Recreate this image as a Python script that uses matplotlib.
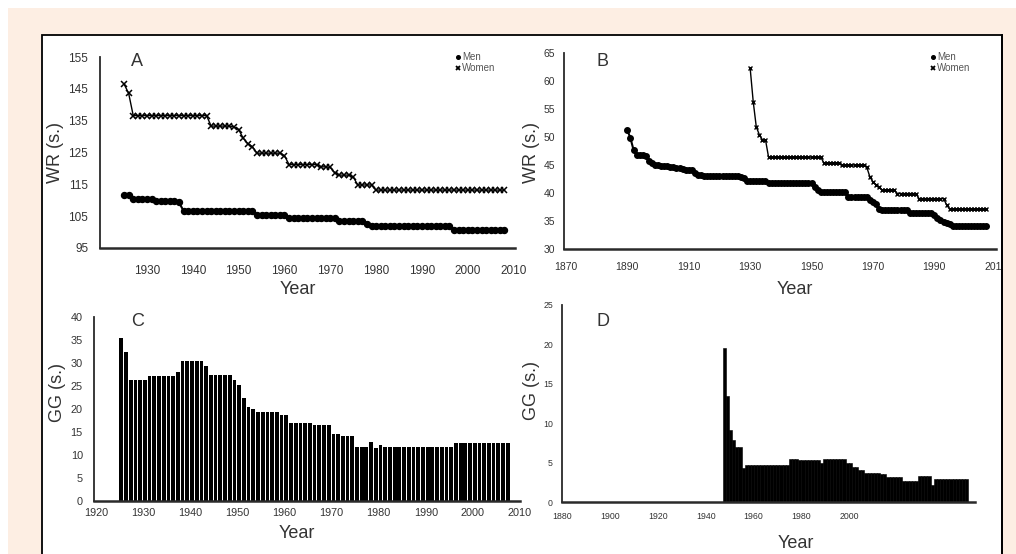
import matplotlib
matplotlib.use('Agg')
import matplotlib.pyplot as plt
from matplotlib.patches import Rectangle
from matplotlib.lines import Line2D
import numpy as np

plt.rcParams['font.family'] = ['Liberation Sans', 'DejaVu Sans']

# ---------------- data ----------------
years_a = list(range(1925, 2009))
women_a = [
    146.5, 143.6, 136.6, 136.6, 136.6, 136.6, 136.6, 136.6, 136.6, 136.6,   # 1925-1934
    136.6, 136.6, 136.6, 136.6, 136.6, 136.6, 136.6, 136.6, 136.6, 133.3,   # 1935-1944
    133.3, 133.3, 133.3, 133.3, 133.0, 132.2, 129.5, 127.8, 126.8, 124.8,   # 1945-1954
    124.8, 124.8, 124.8, 124.8, 124.8, 124.0, 121.2, 121.2, 121.2, 121.2,   # 1955-1964
    121.2, 121.2, 121.2, 120.5, 120.5, 120.3, 118.6, 117.9, 117.9, 117.9,   # 1965-1974
    117.3, 114.8, 114.8, 114.8, 114.8, 113.2, 113.2, 113.2, 113.2, 113.2,   # 1975-1984
    113.2, 113.2, 113.2, 113.2, 113.2, 113.2, 113.2, 113.2, 113.2, 113.2,   # 1985-1994
    113.2, 113.2, 113.2, 113.2, 113.2, 113.2, 113.2, 113.2, 113.2, 113.2,   # 1995-2004
    113.2, 113.2, 113.2, 113.2]                                             # 2005-2008
men_a = [
    111.7, 111.7, 110.5, 110.5, 110.5, 110.5, 110.5, 109.8, 109.8, 109.8,   # 1925-1934
    109.8, 109.8, 109.3, 106.6, 106.6, 106.6, 106.6, 106.6, 106.6, 106.6,   # 1935-1944
    106.6, 106.6, 106.6, 106.6, 106.6, 106.6, 106.6, 106.6, 106.6, 105.5,   # 1945-1954
    105.5, 105.5, 105.5, 105.5, 105.5, 105.5, 104.4, 104.4, 104.4, 104.4,   # 1955-1964
    104.4, 104.4, 104.4, 104.4, 104.4, 104.4, 104.4, 103.4, 103.4, 103.4,   # 1965-1974
    103.4, 103.4, 103.4, 102.6, 101.9, 101.9, 101.9, 101.9, 101.9, 101.9,   # 1975-1984
    101.9, 101.9, 101.9, 101.9, 101.9, 101.9, 101.9, 101.9, 101.9, 101.9,   # 1985-1994
    101.9, 101.9, 100.8, 100.8, 100.8, 100.8, 100.8, 100.8, 100.8, 100.8,   # 1995-2004
    100.8, 100.8, 100.8, 100.8]                                             # 2005-2008

years_men_b = list(range(1890, 2008))
men_b = [
    51.2, 49.8, 47.7, 46.8, 46.8, 46.7, 46.6, 45.8, 45.3, 45.0,   # 1890-1899
    45.0, 44.9, 44.9, 44.8, 44.7, 44.6, 44.5, 44.4, 44.2, 44.1,   # 1900-1909
    44.1, 44.1, 43.6, 43.3, 43.2, 43.1, 43.1, 43.1, 43.1, 43.1,   # 1910-1919
    43.1, 43.1, 43.1, 43.1, 43.1, 43.1, 43.1, 42.9, 42.6, 42.2,   # 1920-1929
    42.2, 42.2, 42.2, 42.2, 42.2, 42.2, 41.8, 41.8, 41.8, 41.8,   # 1930-1939
    41.8, 41.8, 41.8, 41.8, 41.8, 41.8, 41.8, 41.8, 41.8, 41.8,   # 1940-1949
    41.8, 41.1, 40.6, 40.2, 40.2, 40.2, 40.2, 40.2, 40.2, 40.2,   # 1950-1959
    40.2, 40.2, 39.3, 39.3, 39.3, 39.3, 39.3, 39.3, 39.3, 38.8,   # 1960-1969
    38.4, 38.0, 37.2, 37.0, 37.0, 37.0, 37.0, 37.0, 37.0, 37.0,   # 1970-1979
    37.0, 37.0, 36.4, 36.4, 36.4, 36.4, 36.4, 36.4, 36.4, 36.4,   # 1980-1989
    36.0, 35.5, 35.2, 34.9, 34.6, 34.4, 34.1, 34.1, 34.1, 34.1,   # 1990-1999
    34.1, 34.1, 34.1, 34.1, 34.1, 34.1, 34.1, 34.1]               # 2000-2007
years_women_b = list(range(1930, 2008))
women_b = [
    62.3, 56.3, 51.8, 50.4, 49.5, 49.5, 46.4, 46.4, 46.4, 46.4,   # 1930-1939
    46.4, 46.4, 46.4, 46.4, 46.4, 46.4, 46.4, 46.4, 46.4, 46.4,   # 1940-1949
    46.4, 46.4, 46.4, 46.4, 45.4, 45.4, 45.4, 45.4, 45.4, 45.4,   # 1950-1959
    45.0, 45.0, 45.0, 45.0, 45.0, 45.0, 45.0, 45.0, 44.6, 42.9,   # 1960-1969
    42.0, 41.5, 41.1, 40.5, 40.5, 40.5, 40.5, 40.5, 39.9, 39.9,   # 1970-1979
    39.9, 39.9, 39.9, 39.9, 39.9, 39.0, 39.0, 39.0, 39.0, 39.0,   # 1980-1989
    39.0, 39.0, 39.0, 39.0, 37.9, 37.1, 37.1, 37.1, 37.1, 37.1,   # 1990-1999
    37.1, 37.1, 37.1, 37.1, 37.1, 37.1, 37.1, 37.1]               # 2000-2007

years_c = list(range(1925, 2008))
gg_c = [
    35.4, 32.5, 26.3, 26.3, 26.3, 26.3, 27.2, 27.2, 27.2, 27.2,   # 1925-1934
    27.2, 27.2, 28.1, 30.4, 30.4, 30.4, 30.4, 30.4, 29.3, 27.4,   # 1935-1944
    27.4, 27.4, 27.4, 27.4, 26.3, 25.2, 22.3, 20.5, 19.9, 19.4,   # 1945-1954
    19.4, 19.4, 19.4, 19.4, 18.7, 18.7, 16.9, 16.9, 16.9, 16.9,   # 1955-1964
    16.9, 16.5, 16.5, 16.5, 16.5, 14.6, 14.6, 14.1, 14.1, 14.1,   # 1965-1974
    11.7, 11.7, 11.7, 12.9, 11.5, 12.2, 11.8, 11.8, 11.8, 11.8,   # 1975-1984
    11.8, 11.8, 11.8, 11.8, 11.8, 11.8, 11.8, 11.8, 11.8, 11.8,   # 1985-1994
    11.8, 12.7, 12.7, 12.7, 12.7, 12.7, 12.7, 12.7, 12.7, 12.7,   # 1995-2004
    12.7, 12.7, 12.7]                                             # 2005-2007

years_d = list(range(1930, 2008))
gg_d = [
    19.5, 13.5, 9.1, 7.9, 7.0, 7.0, 4.3, 4.7, 4.7, 4.7,   # 1930-1939
    4.7, 4.7, 4.7, 4.7, 4.7, 4.7, 4.7, 4.7, 4.7, 4.7,     # 1940-1949
    4.7, 5.5, 5.5, 5.5, 5.3, 5.3, 5.3, 5.3, 5.3, 5.3,     # 1950-1959
    5.3, 5.0, 5.5, 5.5, 5.5, 5.5, 5.5, 5.5, 5.5, 4.9,     # 1960-1969
    4.9, 4.5, 4.5, 4.1, 4.1, 3.7, 3.7, 3.7, 3.7, 3.7,     # 1970-1979
    3.5, 3.5, 3.2, 3.2, 3.2, 3.2, 3.2, 2.7, 2.7, 2.7,     # 1980-1989
    2.7, 2.7, 3.3, 3.3, 3.3, 3.3, 2.2, 2.9, 2.9, 2.9,     # 1990-1999
    2.9, 2.9, 2.9, 2.9, 2.9, 2.9, 2.9, 2.9]               # 2000-2007

ticks_a_x = [1930, 1940, 1950, 1960, 1970, 1980, 1990, 2000, 2010]
ticks_a_y = [95, 105, 115, 125, 135, 145, 155]
ticks_b_x = [1870, 1890, 1910, 1930, 1950, 1970, 1990, 2010]
ticks_b_y = [30, 35, 40, 45, 50, 55, 60, 65]
ticks_c_x = [1920, 1930, 1940, 1950, 1960, 1970, 1980, 1990, 2000, 2010]
ticks_c_y = [0, 5, 10, 15, 20, 25, 30, 35, 40]
labels_d_x = ['1880', '1900', '1920', '1940', '1960', '1980', '2000']
ticks_d_y = [0, 5, 10, 15, 20, 25]

# ---------------- layout ----------------
W, H = 1016, 554
PEACH = '#fdeee3'
DARK = '#2a2a2a'
fig = plt.figure(figsize=(W / 100, H / 100), dpi=100)
fig.patch.set_facecolor('white')

def fx(x):
    return x / W

def fy(y):
    return 1 - y / H

fig.add_artist(Rectangle((fx(8), 0), 1 - fx(8), fy(8), transform=fig.transFigure,
                         facecolor=PEACH, edgecolor='none', zorder=-10))
fig.add_artist(Rectangle((fx(42), fy(565)), fx(1002) - fx(42), fy(35) - fy(565),
                         transform=fig.transFigure, facecolor='white',
                         edgecolor='black', lw=1.3, zorder=-9))

def px_axes(l, t, r, b):
    ax = fig.add_axes([fx(l), fy(b), fx(r) - fx(l), fy(t) - fy(b)])
    ax.patch.set_alpha(0)
    for s in ['top', 'right']:
        ax.spines[s].set_visible(False)
    ax.spines['left'].set_color(DARK)
    ax.spines['left'].set_linewidth(1.3)
    ax.spines['bottom'].set_color(DARK)
    ax.spines['bottom'].set_linewidth(1.8)
    return ax

def style(ax, fsx, fsy, padx, pady):
    ax.tick_params(length=0, labelcolor='#333333')
    ax.tick_params(axis='x', pad=padx, labelsize=fsx)
    ax.tick_params(axis='y', pad=pady, labelsize=fsy)

# Panel A
axA = px_axes(100, 57, 515, 248)
axA.plot(years_a, men_a, color='black', lw=1.5, marker='o', ms=4.3, label='Men')
axA.plot(years_a, women_a, color='black', lw=1.0, marker='x', ms=4.0, mew=1.1, label='Women')
axA.set_xlim(1919.75, 2010.3)
axA.set_ylim(95, 155)
axA.set_xticks(ticks_a_x)
axA.set_yticks(ticks_a_y)
style(axA, 8.5, 8.5, 12, 8.5)

# Panel B
axB = px_axes(564, 53, 996, 249)
axB.plot(years_men_b, men_b, color='black', lw=1.5, marker='o', ms=4.0, label='Men')
axB.plot(years_women_b, women_b, color='black', lw=1.0, marker='x', ms=3.5, mew=1.0, label='Women')
axB.set_xlim(1869.35, 2010.1)
axB.set_ylim(30, 65)
axB.set_xticks(ticks_b_x)
axB.set_yticks(ticks_b_y)
style(axB, 7.5, 7.5, 9.5, 6.5)

# Panel C
axC = px_axes(94, 317, 520, 501)
axC.bar(years_c, gg_c, width=0.8, align='edge', color='black', lw=0)
axC.set_xlim(1919.6, 2010.0)
axC.set_ylim(0, 40)
axC.set_xticks(ticks_c_x)
axC.set_yticks(ticks_c_y)
style(axC, 7.8, 7.8, 5, 8)

# Panel D
axD = px_axes(562, 305, 975, 502)
axD.bar(years_d, gg_d, width=1.0, align='edge', color='black', edgecolor='black', lw=0.4)
axD.set_xlim(1879.0, 2010.1)
axD.set_ylim(0, 25)
axD.set_xticks([1879.0 + 15.2 * k for k in range(len(labels_d_x))])
axD.set_xticklabels(labels_d_x)
axD.set_yticks(ticks_d_y)
style(axD, 6.3, 6.3, 7, 6.5)

# axis titles and panel letters
lab = dict(color='#333333', fontsize=13, ha='center', va='center')
fig.text(fx(56), fy(153), 'WR (s.)', rotation=90, **lab)
fig.text(fx(532), fy(153), 'WR (s.)', rotation=90, **lab)
fig.text(fx(57), fy(393), 'GG (s.)', rotation=90, **lab)
fig.text(fx(532), fy(390), 'GG (s.)', rotation=90, **lab)
fig.text(fx(298), fy(290), 'Year', **lab)
fig.text(fx(795), fy(290), 'Year', **lab)
fig.text(fx(297), fy(533), 'Year', **lab)
fig.text(fx(796), fy(543), 'Year', **lab)
fig.text(fx(137), fy(62), 'A', **lab)
fig.text(fx(603), fy(61), 'B', **lab)
fig.text(fx(138), fy(321), 'C', **lab)
fig.text(fx(603), fy(321), 'D', **lab)

# small legends
def legend_at(xm, y1, y2, size):
    fig.add_artist(Line2D([fx(xm)], [fy(y1)], marker='o', ms=2.6, color='black',
                          ls='none', transform=fig.transFigure))
    fig.add_artist(Line2D([fx(xm)], [fy(y2)], marker='x', ms=3.2, mew=1.3, color='black',
                          ls='none', transform=fig.transFigure))
    fig.text(fx(xm + 4), fy(y1), axA.get_lines()[0].get_label(), fontsize=size,
             color='#555555', va='center', ha='left')
    fig.text(fx(xm + 4), fy(y2), axA.get_lines()[1].get_label(), fontsize=size,
             color='#555555', va='center', ha='left')

legend_at(458, 57, 68, 7)
legend_at(933, 57, 68, 7)

# clip the overflow on the right of the white panel
fig.add_artist(Rectangle((fx(1002.6), 0), 1 - fx(1002.6), fy(35), transform=fig.transFigure,
                         facecolor=PEACH, edgecolor='none', zorder=10))
fig.add_artist(Line2D([fx(1002), fx(1002)], [fy(35), 0], color='black', lw=1.3,
                      transform=fig.transFigure, zorder=11))

fig.savefig('out.png', dpi=100, facecolor=fig.get_facecolor())
